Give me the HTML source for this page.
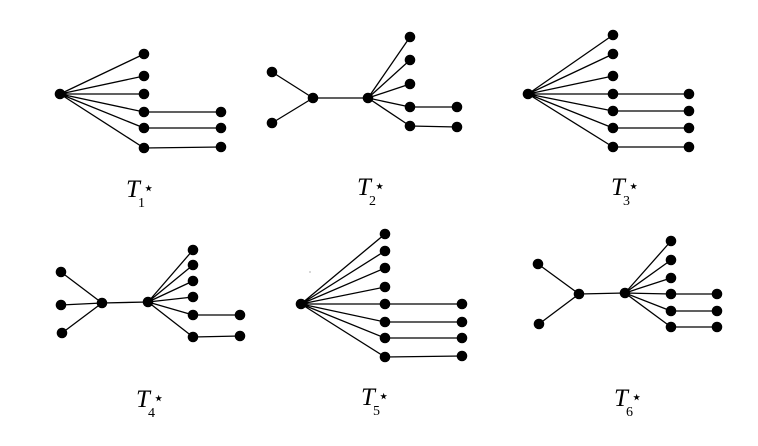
<!DOCTYPE html>
<html><head><meta charset="utf-8"><style>
html,body{margin:0;padding:0;background:#fff;}
svg{display:block;}
text{font-family:"Liberation Serif",serif;}
</style></head><body>
<svg id="s" width="758" height="446" viewBox="0 0 758 446" xmlns="http://www.w3.org/2000/svg">
<g stroke="#000" stroke-width="1.3" fill="none">
<path d="M60 94L144 54M60 94L144 76M60 94L144 94M60 94L144 112M60 94L144 128M60 94L144 148M144 112L221 112M144 128L221 128M144 148L221 147"/>
<path d="M272 72L313 98M272 123L313 98M313 98L368 98M368 98L410 37M368 98L410 60M368 98L410 84M368 98L410 107M368 98L410 126M410 107L457 107M410 126L457 127"/>
<path d="M528 94L613 35M528 94L613 54M528 94L613 76M528 94L613 94M528 94L613 111M528 94L613 128M528 94L613 147M613 94L689 94M613 111L689 111M613 128L689 128M613 147L689 147"/>
<path d="M61 272L102 303M61 305L102 303M62 333L102 303M102 303L148 302M148 302L193 250M148 302L193 265M148 302L193 281M148 302L193 297M148 302L193 315M148 302L193 337M193 315L240 315M193 337L240 336"/>
<path d="M301 304L385 234M301 304L385 251M301 304L385 268M301 304L385 287M301 304L385 304M301 304L385 322M301 304L385 338M301 304L385 357M385 304L462 304M385 322L462 322M385 338L462 338M385 357L462 356"/>
<path d="M538 264L579 294M539 324L579 294M579 294L625 293M625 293L671 241M625 293L671 260M625 293L671 278M625 293L671 294M625 293L671 311M625 293L671 327M671 294L717 294M671 311L717 311M671 327L717 327"/>
</g>
<g fill="#000" id="dots"></g>
<g font-style="italic" font-size="25">
<text x="126" y="197">T</text><text x="357" y="195">T</text><text x="611" y="195">T</text>
<text x="136" y="407">T</text><text x="361" y="405">T</text><text x="614" y="406">T</text>
</g>
<g font-size="14">
<text x="138" y="207">1</text><text x="369" y="205">2</text><text x="623" y="205">3</text>
<text x="148" y="417">4</text><text x="373" y="415">5</text><text x="626" y="416">6</text>
</g>
<g font-size="18" font-family="DejaVu Sans">
<text x="143" y="194">⋆</text><text x="374" y="192">⋆</text><text x="628" y="192">⋆</text>
<text x="153" y="404">⋆</text><text x="378" y="402">⋆</text><text x="631" y="403">⋆</text>
</g>
<circle cx="310" cy="272" r="0.6" fill="#777"/>
</svg>
<script>
var pts=[[60,94],[144,54],[144,76],[144,94],[144,112],[144,128],[144,148],[221,112],[221,128],[221,147],
[272,72],[272,123],[313,98],[368,98],[410,37],[410,60],[410,84],[410,107],[410,126],[457,107],[457,127],
[528,94],[613,35],[613,54],[613,76],[613,94],[613,111],[613,128],[613,147],[689,94],[689,111],[689,128],[689,147],
[61,272],[61,305],[62,333],[102,303],[148,302],[193,250],[193,265],[193,281],[193,297],[193,315],[193,337],[240,315],[240,336],
[301,304],[385,234],[385,251],[385,268],[385,287],[385,304],[385,322],[385,338],[385,357],[462,304],[462,322],[462,338],[462,356],
[538,264],[539,324],[579,294],[625,293],[671,241],[671,260],[671,278],[671,294],[671,311],[671,327],[717,294],[717,311],[717,327]];
var g=document.getElementById('dots'),ns="http://www.w3.org/2000/svg";
pts.forEach(function(p){var c=document.createElementNS(ns,'circle');c.setAttribute('cx',p[0]);c.setAttribute('cy',p[1]);c.setAttribute('r',5.3);g.appendChild(c);});
</script>
</body></html>
